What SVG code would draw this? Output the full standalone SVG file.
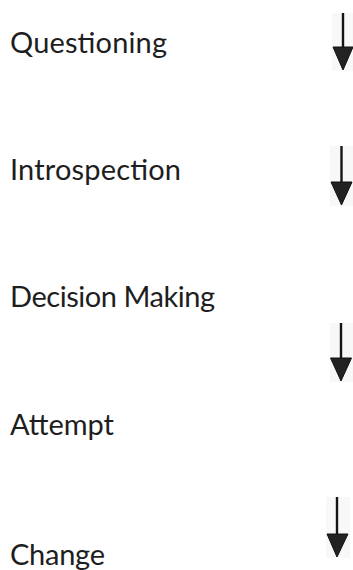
<svg xmlns="http://www.w3.org/2000/svg" width="353" height="570" viewBox="0 0 353 570">
  <style>
    .label { font-family: Lato, "Open Sans", "Liberation Sans", sans-serif; font-size: 29px; fill: #1e1e1e; }
    .shaft { stroke: #151515; stroke-width: 2.4; fill: none; }
    .head { fill: #222222; stroke: #111111; stroke-width: 1; stroke-linejoin: miter; }
    .backing { fill: #f8f8f8; }
  </style>
  <rect width="353" height="570" fill="#ffffff"/>

  <!-- step labels, one per paragraph line -->
  <g id="questioning"><text class="label" x="10" y="53" textLength="157">Questioning</text></g>
  <g id="introspection"><text class="label" x="10" y="179.5" textLength="171">Introspection</text></g>
  <g id="decision-making"><text class="label" x="10" y="306.5" textLength="205">Decision Making</text></g>
  <g id="attempt"><text class="label" x="10" y="435" textLength="104">Attempt</text></g>
  <g id="change"><text class="label" x="10" y="565" textLength="95">Change</text></g>

  <!-- down arrows at the right margin -->
  <g id="connectors">
    <g id="arrow-1">
      <rect class="backing" x="332" y="13" width="21" height="58"/>
      <line class="shaft" x1="343" y1="13" x2="343" y2="50"/>
      <polygon class="head" points="333,47 353,47 343,70"/>
    </g>
    <g id="arrow-2">
      <rect class="backing" x="330" y="146" width="23" height="60"/>
      <line class="shaft" x1="341.5" y1="146" x2="341.5" y2="184"/>
      <polygon class="head" points="331,182 352,182 341.5,205"/>
    </g>
    <g id="arrow-3">
      <rect class="backing" x="330" y="323" width="23" height="59"/>
      <line class="shaft" x1="341" y1="323" x2="341" y2="360"/>
      <polygon class="head" points="330.5,358 351.5,358 341,381"/>
    </g>
    <g id="arrow-4">
      <rect class="backing" x="326" y="497" width="24" height="61"/>
      <line class="shaft" x1="337" y1="497" x2="337" y2="536"/>
      <polygon class="head" points="327,534 348,534 337,557"/>
    </g>
  </g>
</svg>
